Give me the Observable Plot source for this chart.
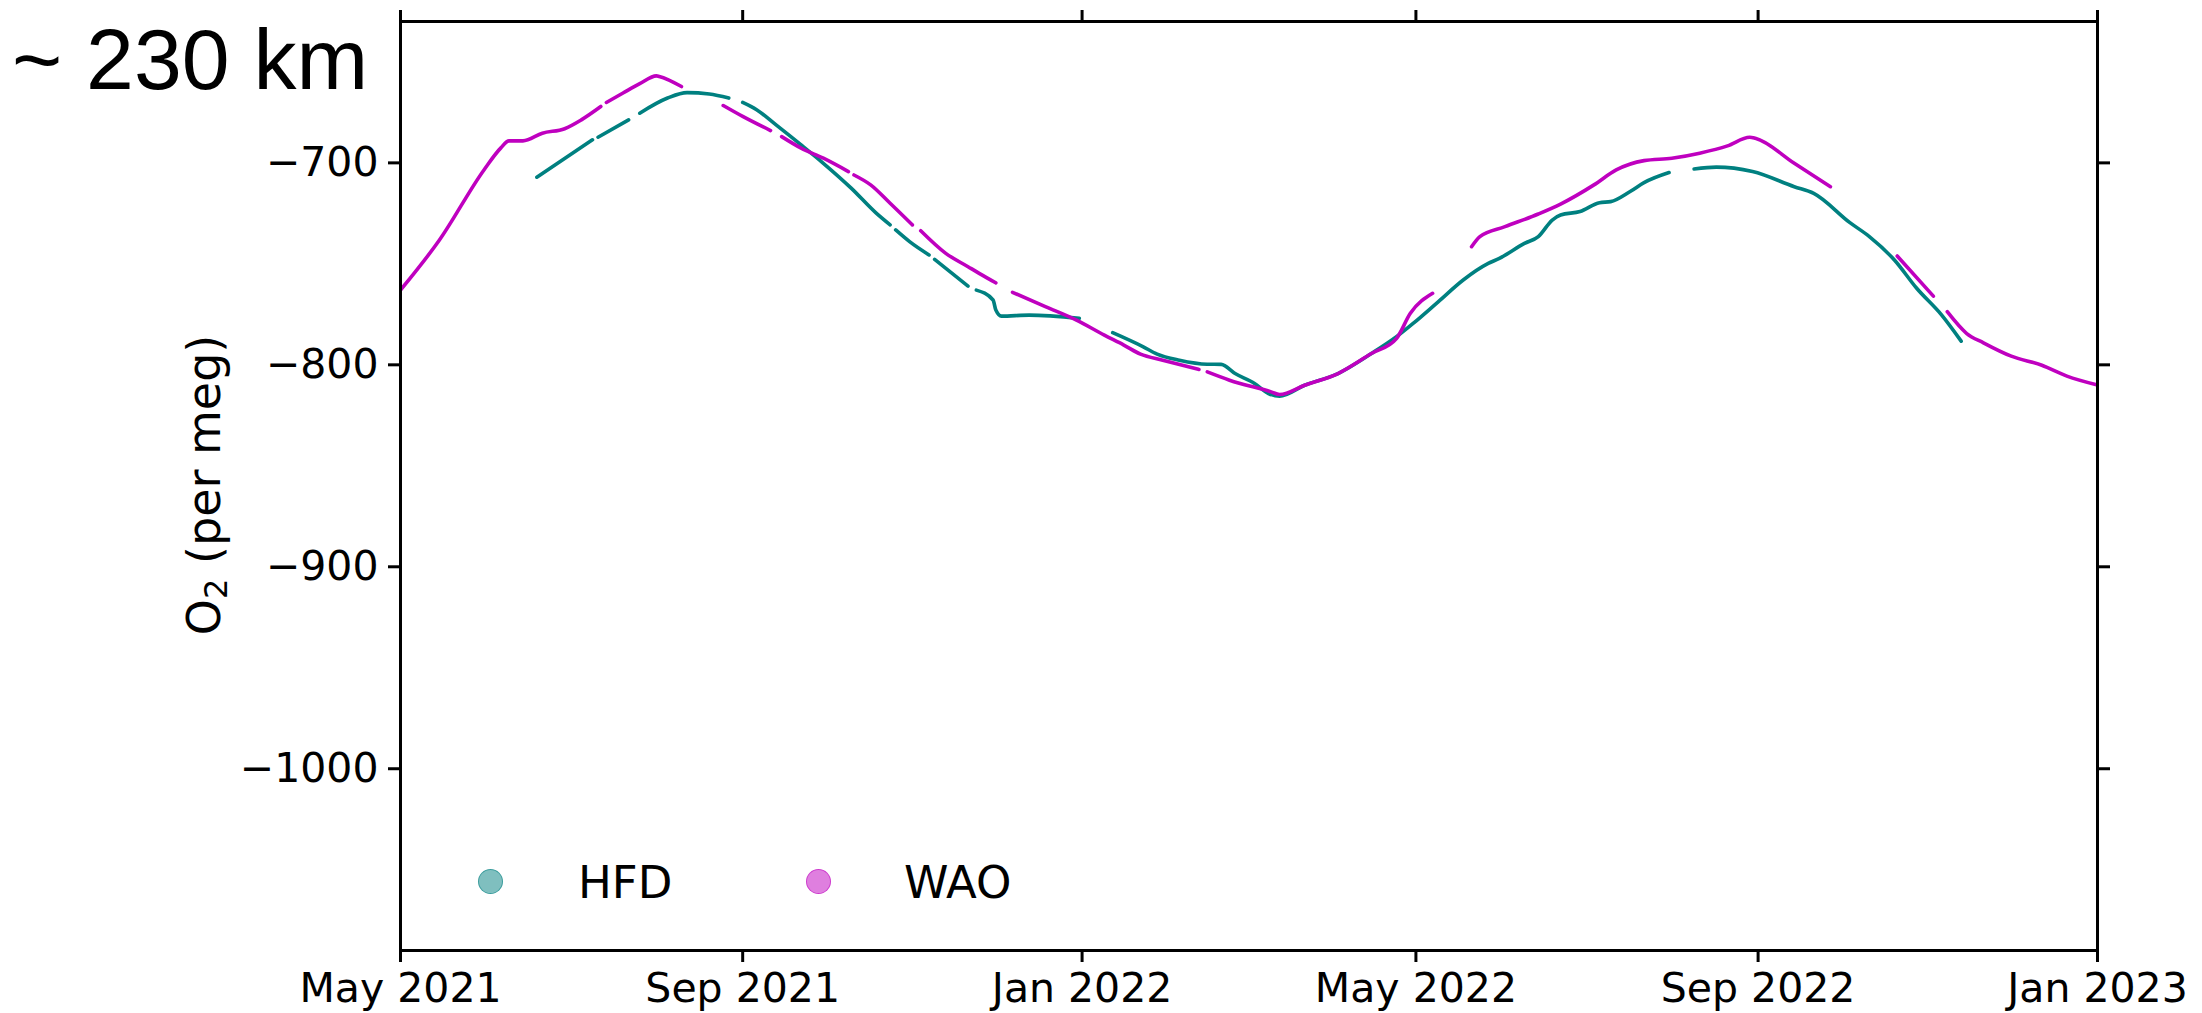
<!DOCTYPE html>
<html>
<head>
<meta charset="utf-8">
<script src="https://cdn.jsdelivr.net/npm/d3@7"></script>
<script src="https://cdn.jsdelivr.net/npm/@observablehq/plot@0.6"></script>
<style>
  html, body { margin: 0; padding: 0; background: #fff; }
  #wrap { position: relative; width: 2202px; height: 1013px; overflow: hidden; background: #fff; }
  #wrap svg { position: absolute; left: 0; top: 0; }
  .ov { position: absolute; white-space: nowrap; line-height: 1; color: #000; }
  #title { font-family: "Liberation Sans", Arial, sans-serif; font-size: 86px; left: 12px; top: 16px; }
  #ylab { font-family: "DejaVu Sans", sans-serif; font-size: 46px; left: 204px; top: 485px; transform: translate(-50%, -50%) rotate(-90deg); }
  #ylab .sub { font-size: 0.7em; position: relative; top: 0.22em; }
  .legtxt { font-family: "DejaVu Sans", sans-serif; font-size: 45px; top: 860px; }
  .legdot { position: absolute; width: 23px; height: 23px; border-radius: 50%; top: 869px; }
</style>
</head>
<body>
<div id="wrap"></div>
<script>
// ---- data ----
const titleText = "~ 230 km";
const yLabelMain = "O";
const yLabelSub = "2";
const yLabelRest = " (per meg)";
const seriesNames = ["HFD", "WAO"];
const seriesColors = ["#008080", "#bf00bf"];
const xTickDates = ["2021-05-01", "2021-09-01", "2022-01-01", "2022-05-01", "2022-09-01", "2023-01-01"];
const yTicks = [-1000, -900, -800, -700];

const hfdDates = ["2021-06-19","2021-07-09","2021-07-10","2021-07-11","2021-07-22","2021-07-24","2021-07-26","2021-08-05","2021-08-12","2021-08-20","2021-08-27","2021-08-29","2021-09-01","2021-09-06","2021-09-13","2021-09-22","2021-09-30","2021-10-10","2021-10-19","2021-10-24","2021-10-25","2021-10-26","2021-10-31","2021-11-07","2021-11-08","2021-11-09","2021-11-21","2021-11-22","2021-11-24","2021-11-30","2021-12-01","2021-12-03","2021-12-13","2021-12-31","2022-01-06","2022-01-12","2022-01-23","2022-01-28","2022-02-05","2022-02-15","2022-02-20","2022-02-25","2022-03-04","2022-03-09","2022-03-13","2022-03-22","2022-04-03","2022-04-15","2022-04-24","2022-04-30","2022-05-09","2022-05-18","2022-05-27","2022-05-31","2022-06-09","2022-06-14","2022-06-19","2022-06-22","2022-06-29","2022-07-06","2022-07-10","2022-07-17","2022-07-22","2022-07-31","2022-08-04","2022-08-09","2022-08-17","2022-08-30","2022-09-14","2022-09-21","2022-10-04","2022-10-11","2022-10-20","2022-10-28","2022-11-06","2022-11-13"];
const hfdValues = [-707.1,-688.6,null,-687.3,-678.7,null,-675.4,-667.9,-665.2,-665.9,-667.9,null,-670.1,-673.7,-681.2,-691.1,-700.2,-712.5,-724.9,-730.7,null,-733.2,-739.0,-745.6,null,-747.8,-761.0,null,-763.0,-767.9,-772.9,-775.9,-775.4,-777.0,null,-784.1,-791.1,-794.7,-797.7,-799.7,-799.8,-804.3,-809.2,-814.2,-815.5,-810.1,-804.3,-794.4,-786.1,-779.5,-768.8,-758.0,-749.8,-747.3,-739.9,-736.5,-728.3,-725.8,-724.1,-719.7,-719.2,-714.2,-709.8,-704.8,null,-703.0,-702.1,-704.3,-711.8,-715.1,-729.6,-736.5,-748.1,-762.1,-775.4,-788.3];

const waoDates = ["2021-05-01","2021-05-15","2021-05-31","2021-06-06","2021-06-09","2021-06-14","2021-06-21","2021-06-29","2021-07-05","2021-07-12","2021-07-13","2021-07-14","2021-07-20","2021-07-26","2021-08-01","2021-08-02","2021-08-10","2021-08-18","2021-08-25","2021-09-01","2021-09-11","2021-09-12","2021-09-15","2021-09-22","2021-09-30","2021-10-09","2021-10-10","2021-10-11","2021-10-17","2021-10-24","2021-11-01","2021-11-02","2021-11-04","2021-11-13","2021-11-21","2021-11-25","2021-12-01","2021-12-04","2021-12-07","2021-12-19","2021-12-30","2022-01-09","2022-01-16","2022-01-22","2022-01-30","2022-02-12","2022-02-13","2022-02-15","2022-02-23","2022-03-10","2022-03-13","2022-03-22","2022-04-03","2022-04-15","2022-04-24","2022-04-29","2022-05-07","2022-05-12","2022-05-21","2022-05-24","2022-06-02","2022-06-14","2022-06-22","2022-07-04","2022-07-12","2022-07-22","2022-08-01","2022-08-11","2022-08-21","2022-08-29","2022-08-31","2022-09-14","2022-09-27","2022-10-09","2022-10-21","2022-11-03","2022-11-05","2022-11-08","2022-11-15","2022-11-21","2022-12-01","2022-12-12","2022-12-21","2023-01-01"];
const waoValues = [-763.0,-738.2,-703.5,-692.7,-689.1,-689.1,-685.3,-683.1,-678.7,-672.1,null,-670.1,-665.4,-660.8,-656.9,-657.2,-662.2,null,-671.6,-677.0,-684.0,null,-687.0,-692.7,-697.7,-704.3,null,-706.0,-710.9,-720.0,-730.7,null,-733.6,-744.8,-751.4,-754.7,-759.4,null,-764.1,-771.3,-777.9,-785.3,-790.2,-794.7,-797.7,-802.3,null,-803.5,-807.6,-813.4,-814.7,-810.1,-804.3,-794.4,-787.0,-774.5,-764.6,null,-741.5,-736.5,-731.6,-725.3,-720.4,-710.9,-703.5,-698.9,-697.7,-695.2,-691.6,-687.3,-687.8,-700.2,-711.8,null,-746.1,-766.0,null,-773.7,-784.5,-789.1,-795.7,-800.2,-805.6,-810.0];

// ---- build tables ----
const toRows = (dates, values) => dates.map((d, i) => ({date: new Date(d + "T00:00:00Z"), value: values[i]}));
const hfd = toRows(hfdDates, hfdValues);
const wao = toRows(waoDates, waoValues);
const xTicks = xTickDates.map(d => new Date(d + "T00:00:00Z"));
const fmtX = d3.utcFormat("%b %Y");
const fmtY = d => (d < 0 ? "\u2212" : "") + Math.abs(d);

const chart = Plot.plot({
  width: 2202,
  height: 1013,
  marginLeft: 400,
  marginRight: 105,
  marginTop: 21,
  marginBottom: 63,
  style: {fontFamily: "'DejaVu Sans', sans-serif", fontSize: "41px", background: "transparent", color: "black", overflow: "visible"},
  x: {type: "utc", domain: [new Date("2021-05-01T00:00:00Z"), new Date("2023-01-01T00:00:00Z")]},
  y: {domain: [-1090, -630]},
  marks: [
    Plot.line(hfd, {x: "date", y: "value", stroke: seriesColors[0], strokeWidth: 3.6, curve: "monotone-x", clip: true}),
    Plot.line(wao, {x: "date", y: "value", stroke: seriesColors[1], strokeWidth: 3.6, curve: "monotone-x", clip: true}),
    Plot.axisX({anchor: "bottom", ticks: xTicks, tickFormat: fmtX, tickSize: 12, tickPadding: 10, strokeWidth: 3, label: null}),
    Plot.axisX({anchor: "top", ticks: xTicks, tickFormat: () => "", tickSize: 12, strokeWidth: 3, label: null}),
    Plot.axisY({anchor: "left", ticks: yTicks, tickFormat: fmtY, tickSize: 12, tickPadding: 10, strokeWidth: 3, label: null}),
    Plot.axisY({anchor: "right", ticks: yTicks, tickFormat: () => "", tickSize: 12, strokeWidth: 3, label: null}),
    Plot.frame({stroke: "black", strokeWidth: 3})
  ]
});

const wrap = document.getElementById("wrap");
wrap.appendChild(chart);

function addDiv(cls, id, text, style) {
  const el = document.createElement("div");
  el.className = cls;
  if (id) el.id = id;
  if (text) el.textContent = text;
  Object.assign(el.style, style || {});
  wrap.appendChild(el);
  return el;
}
addDiv("ov", "title", titleText);

// y-axis label with a real subscript
const ylab = addDiv("ov", "ylab", null);
ylab.appendChild(document.createTextNode(yLabelMain));
const sub = document.createElement("span");
sub.className = "sub";
sub.textContent = yLabelSub;
ylab.appendChild(sub);
ylab.appendChild(document.createTextNode(yLabelRest));

// legend
const legendItems = [
  {dotLeft: 478, textLeft: 578},
  {dotLeft: 806, textLeft: 904}
];
seriesNames.forEach((name, i) => {
  const c = d3.color(seriesColors[i]);
  const fill = `rgba(${c.r},${c.g},${c.b},0.5)`;
  addDiv("legdot", null, null, {left: legendItems[i].dotLeft + "px", background: fill, border: `1.5px solid rgba(${c.r},${c.g},${c.b},0.55)`});
  addDiv("ov legtxt", null, name, {left: legendItems[i].textLeft + "px"});
});
</script>
</body>
</html>
